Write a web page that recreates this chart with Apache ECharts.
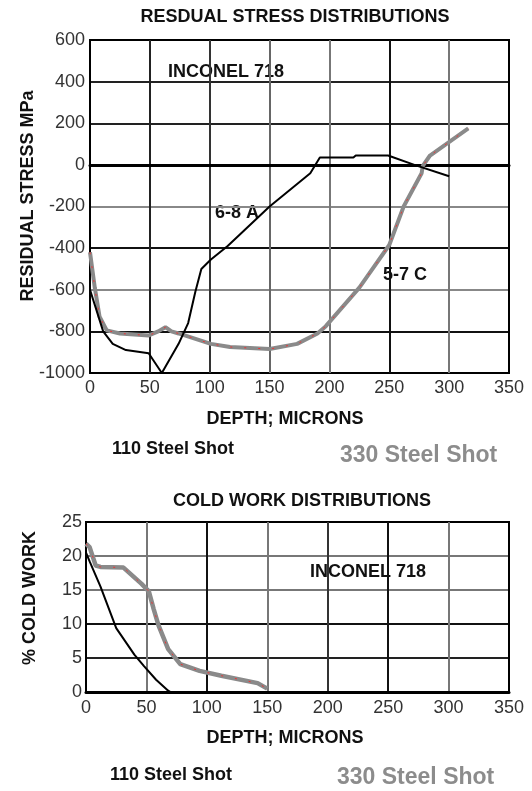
<!DOCTYPE html>
<html><head><meta charset="utf-8">
<script src="https://cdn.jsdelivr.net/npm/echarts@6/dist/echarts.min.js"></script>
<style>html,body{margin:0;padding:0;background:#fff}#c{width:532px;height:791px}</style>
</head><body><div id="c"></div>
<script>
// Residual stress, 110 steel shot (6-8 A)
const stressA = [[0,-600],[11,-800],[19,-860],[30,-890],[49,-905],[60,-1000],[74,-860],[82,-760],[88,-610],[93,-500],[101,-455],[115,-390],[150,-200],[184,-40],[192,35],[220,35],[222,45],[249,45],[271,0],[300,-55]];
// Residual stress, 330 steel shot (5-7 C)
const stressC = [[0,-420],[4,-590],[8,-730],[14,-795],[25,-810],[49,-820],[57,-800],[63,-780],[68,-800],[74,-810],[101,-860],[117,-875],[150,-885],[173,-860],[190,-810],[197,-775],[225,-590],[250,-385],[262,-200],[277,-40],[278,-5],[284,45],[316,175]];
// Cold work, 110 steel shot
const coldA = [[0,20.5],[3,19.2],[12,15.5],[25,9.4],[40,5.5],[48,3.8],[58,1.8],[68,0.2],[70,0],[145,0]];
// Cold work, 330 steel shot
const coldC = [[0,21.8],[3,21.3],[8,18.6],[12,18.4],[31,18.3],[46,15.9],[52,14.8],[56,12.2],[60,9.8],[68,6.3],[78,4.1],[94,3.1],[112,2.4],[142,1.3],[150,0.5]];
const depthTicks = [0,50,100,150,200,250,300,350];
const stressTicks = [-1000,-800,-600,-400,-200,0,200,400,600];
const coldTicks = [0,5,10,15,20,25];

const chart = echarts.init(document.getElementById('c'));
const F = 'Liberation Sans, Arial, sans-serif';
function t(x,y,s,o){
  o=o||{};
  return {type:'text',x:x,y:y,rotation:o.rot||0,style:{text:s,font:(o.font||'bold 18px ')+F,fill:o.fill||'#111',textAlign:o.align||'left',textVerticalAlign:'middle'}};
}
const lab = {color:'#333',fontSize:18,fontFamily:F};
chart.setOption({
  animation:false,
  grid:[
    {left:90,top:40,width:419,height:333,show:true,borderColor:'#000',borderWidth:2},
    {left:86,top:522,width:423,height:170,show:true,borderColor:'#000',borderWidth:2}
  ],
  xAxis:[
    {gridIndex:0,type:'value',min:0,max:350,interval:50,
     axisLine:{lineStyle:{color:'#000',width:3}},axisTick:{show:false},
     axisLabel:Object.assign({margin:6},lab),
     splitLine:{show:true,lineStyle:{width:2,color:['#000','#222','#333','#666','#777','#111','#777','#000']}}},
    {gridIndex:1,type:'value',min:0,max:350,interval:50,
     axisLine:{lineStyle:{color:'#000',width:3}},axisTick:{show:false},
     axisLabel:Object.assign({margin:7},lab),
     splitLine:{show:true,lineStyle:{width:2,color:['#000','#777','#111','#777','#333','#111','#777','#000']}}}
  ],
  yAxis:[
    {gridIndex:0,type:'value',min:-1000,max:600,interval:200,
     axisLine:{lineStyle:{color:'#000',width:2}},axisTick:{show:false},
     axisLabel:Object.assign({margin:5,formatter:v=>String(v)},lab),
     splitLine:{show:true,lineStyle:{width:2,color:['#000','#111','#888','#111','#888','#000','#222','#222','#000']}}},
    {gridIndex:1,type:'value',min:0,max:25,interval:5,
     axisLine:{lineStyle:{color:'#000',width:2}},axisTick:{show:false},
     axisLabel:Object.assign({margin:4,formatter:v=>String(v)},lab),
     splitLine:{show:true,lineStyle:{width:2,color:['#000','#222','#111','#777','#777','#000']}}}
  ],
  series:[
    {type:'line',xAxisIndex:0,yAxisIndex:0,data:stressC,symbol:'none',lineStyle:{color:'#8a8a8a',width:4},z:4,
     markLine:{silent:true,symbol:'none',label:{show:false},z:2,lineStyle:{color:'#000',width:3,type:'solid'},data:[{yAxis:0}]}},
    {type:'line',xAxisIndex:0,yAxisIndex:0,data:stressC,symbol:'none',lineStyle:{color:'#e33',width:1,type:[2,12]},z:5},
    {type:'line',xAxisIndex:0,yAxisIndex:0,data:stressA,symbol:'none',lineStyle:{color:'#000',width:2},z:6},
    {type:'line',xAxisIndex:1,yAxisIndex:1,data:coldC,symbol:'none',lineStyle:{color:'#8a8a8a',width:4.5},z:4},
    {type:'line',xAxisIndex:1,yAxisIndex:1,data:coldC,symbol:'none',lineStyle:{color:'#e33',width:1,type:[2,12]},z:5},
    {type:'line',xAxisIndex:1,yAxisIndex:1,data:coldA,symbol:'none',lineStyle:{color:'#000',width:2},z:6}
  ],
  graphic:[
    t(295,17,'RESDUAL STRESS DISTRIBUTIONS',{align:'center'}),
    t(168,72,'INCONEL 718'),
    t(215,213,'6-8 A'),
    t(383,275,'5-7 C'),
    t(285,419,'DEPTH; MICRONS',{align:'center'}),
    t(112,449,'110 Steel Shot'),
    t(340,456,'330 Steel Shot',{font:'bold 23px ',fill:'#8c8c8c'}),
    t(28,196,'RESIDUAL STRESS MPa',{rot:Math.PI/2,align:'center'}),
    t(302,501,'COLD WORK DISTRIBUTIONS',{align:'center'}),
    t(310,572,'INCONEL 718'),
    t(30,598,'% COLD WORK',{rot:Math.PI/2,align:'center'}),
    t(285,738,'DEPTH; MICRONS',{align:'center'}),
    t(110,775,'110 Steel Shot'),
    t(337,778,'330 Steel Shot',{font:'bold 23px ',fill:'#8c8c8c'})
  ]
});
</script></body></html>
